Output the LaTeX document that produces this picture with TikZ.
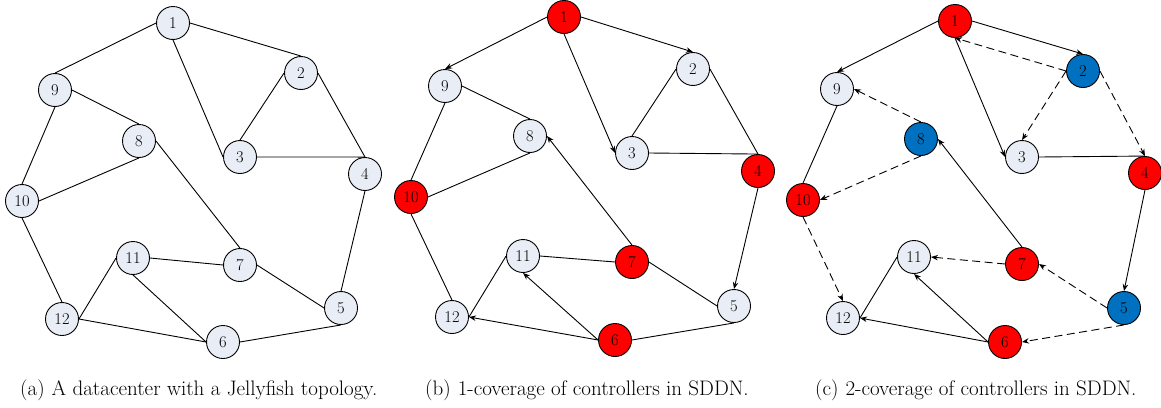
\documentclass[tikz,border=0pt]{standalone}
\usepackage{fontspec}
\usetikzlibrary{arrows.meta}
\definecolor{lightnode}{RGB}{232,237,246}
\definecolor{rednode}{RGB}{255,0,0}
\definecolor{bluenode}{RGB}{0,112,192}
\begin{document}
\begin{tikzpicture}[x=1pt,y=-1pt,
  vtx/.style={circle,draw=black,line width=0.9pt,minimum size=33pt,inner sep=0pt,fill=lightnode,font=\fontsize{16.5}{18}\selectfont},
  rv/.style={vtx,fill=rednode},
  bv/.style={vtx,fill=bluenode},
  edge/.style={line width=0.9pt,black},
  arr/.style={edge,-{Stealth[length=7pt,width=5.5pt]}},
  darr/.style={arr,dash pattern=on 8pt off 4.5pt},
  captext/.style={anchor=base west,font=\fontsize{21}{24}\selectfont,inner sep=0pt}]
\useasboundingbox (0,0) rectangle (1161,407);
% ---------- (a)
\node[vtx] (a1) at (173,23) {1};
\node[vtx] (a2) at (301,73) {2};
\node[vtx] (a3) at (240,157) {3};
\node[vtx] (a4) at (365,174) {4};
\node[vtx] (a5) at (341,308) {5};
\node[vtx] (a6) at (223,342) {6};
\node[vtx] (a7) at (240,265) {7};
\node[vtx] (a8) at (139,141) {8};
\node[vtx] (a9) at (55,90) {9};
\node[vtx] (a10) at (22,201) {10};
\node[vtx] (a11) at (133,258) {11};
\node[vtx] (a12) at (62,319) {12};
\draw[edge] (a1.west)--(a9.north);
\draw[edge] (a1.east)--(a2.north);
\draw[edge] (a1.south)--(a3.west);
\draw[edge] (a2.west)--(a3.north);
\draw[edge] (a2.east)--(a4.north);
\draw[edge] (a3.east)--(a4.north);
\draw[edge] (a4.south)--(a5.north);
\draw[edge] (a9.east)--(a8.north);
\draw[edge] (a9.south)--(a10.north);
\draw[edge] (a8.south)--(a10.east);
\draw[edge] (a8.east)--(a7.north);
\draw[edge] (a10.south)--(a12.north);
\draw[edge] (a11.east)--(a7.west);
\draw[edge] (a11.west)--(a12.east);
\draw[edge] (a11.south)--(a6.west);
\draw[edge] (a12.east)--(a6.west);
\draw[edge] (a7.east)--(a5.west);
\draw[edge] (a5.south)--(a6.east);
% ---------- (b)
\node[rv] (b1) at (564,17) {1};
\node[vtx] (b2) at (693,69) {2};
\node[vtx] (b3) at (632,153) {3};
\node[rv] (b4) at (758,171) {4};
\node[vtx] (b5) at (734,306) {5};
\node[rv] (b6) at (615,340) {6};
\node[rv] (b7) at (632,262) {7};
\node[vtx] (b8) at (530,136) {8};
\node[vtx] (b9) at (445,86) {9};
\node[rv] (b10) at (411,197) {10};
\node[vtx] (b11) at (523,256) {11};
\node[vtx] (b12) at (452,317) {12};
\draw[arr] (b1.west)--(b9.north);
\draw[arr] (b1.east)--(b2.north);
\draw[arr] (b1.south)--(b3.west);
\draw[edge] (b2.west)--(b3.north);
\draw[edge] (b2.east)--(b4.north);
\draw[edge] (b3.east)--(b4.north);
\draw[arr] (b4.south)--(b5.north);
\draw[edge] (b9.east)--(b8.north);
\draw[edge] (b9.south)--(b10.north);
\draw[edge] (b8.south)--(b10.east);
\draw[arr] (b7.north)--(b8.east);
\draw[edge] (b10.south)--(b12.north);
\draw[edge] (b11.east)--(b7.west);
\draw[edge] (b11.west)--(b12.east);
\draw[arr] (b6.west)--(b11.south);
\draw[arr] (b6.west)--(b12.east);
\draw[edge] (b7.east)--(b5.west);
\draw[edge] (b5.south)--(b6.east);
% ---------- (c)
\node[rv] (c1) at (955,21) {1};
\node[bv] (c2) at (1083,71) {2};
\node[vtx] (c3) at (1022,157) {3};
\node[rv] (c4) at (1145,173) {4};
\node[bv] (c5) at (1124,308) {5};
\node[rv] (c6) at (1005,342) {6};
\node[rv] (c7) at (1022,264) {7};
\node[bv] (c8) at (921,139) {8};
\node[vtx] (c9) at (837,89) {9};
\node[rv] (c10) at (803,200) {10};
\node[vtx] (c11) at (914,257) {11};
\node[vtx] (c12) at (843,318) {12};
\draw[arr] (c1.west)--(c9.north);
\draw[arr] (c1.east)--(c2.north);
\draw[darr] (c2.west)--(c1.south);
\draw[arr] (c1.south)--(c3.west);
\draw[darr] (c2.west)--(c3.north);
\draw[darr] (c2.east)--(c4.north);
\draw[edge] (c3.east)--(c4.north);
\draw[arr] (c4.south)--(c5.north);
\draw[darr] (c8.north)--(c9.east);
\draw[darr] (c8.south)--(c10.east);
\draw[edge] (c9.south)--(c10.north);
\draw[arr] (c7.north)--(c8.east);
\draw[darr] (c10.south)--(c12.north);
\draw[darr] (c7.west)--(c11.east);
\draw[darr] (c5.west)--(c7.east);
\draw[darr] (c5.south)--(c6.east);
\draw[arr] (c6.west)--(c11.south);
\draw[arr] (c6.west)--(c12.east);
\draw[edge] (c11.west)--(c12.east);
% ---------- captions
\node[captext] (capa) at (20,395) {(a)\,\,A datacenter with a Jellyfish topology.};
\node[captext] (capb) at (425,395) {(b)\,\,1-coverage of controllers in SDDN.};
\node[captext] (capc) at (815,395) {(c)\,\,2-coverage of controllers in SDDN.};
\end{tikzpicture}
\end{document}
